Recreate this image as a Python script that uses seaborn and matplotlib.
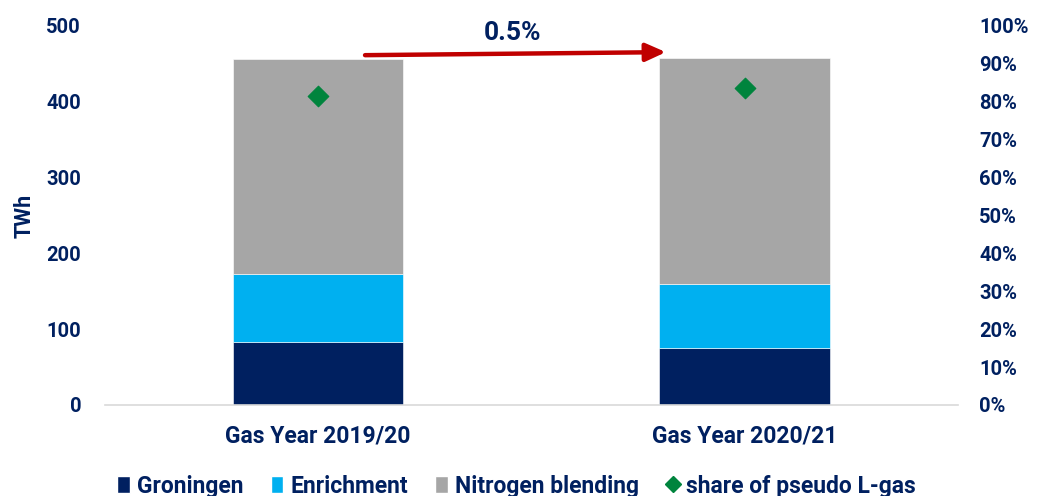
import matplotlib
matplotlib.use("Agg")
import matplotlib.pyplot as plt
import seaborn as sns
from matplotlib.lines import Line2D
from matplotlib.patches import Patch

categories = ["Gas Year 2019/20", "Gas Year 2020/21"]
groningen = [83, 75]
enrichment = [90, 85]
nitrogen = [283, 298]
share_pseudo = [0.815, 0.836]
change_label = "0.5%"

navy = "#002060"
c_gron = "#002060"
c_enr = "#00B0F0"
c_nit = "#A6A6A6"
c_share = "#00843D"
c_arrow = "#C00000"

FS_Y = 14.5
FS_X = 16.5

sns.set_theme(style="white")
plt.rcParams["font.family"] = ["Roboto", "DejaVu Sans"]
plt.rcParams["font.weight"] = "bold"

fig = plt.figure(figsize=(10.37, 4.96), dpi=100)
ax = fig.add_axes([0.101, 0.1835, 0.823, 0.7641])

bottom2 = [g + e for g, e in zip(groningen, enrichment)]
sns.barplot(x=categories, y=groningen, color=c_gron, width=0.4, ax=ax,
            edgecolor="white", linewidth=0.4, saturation=1)
sns.barplot(x=categories, y=enrichment, bottom=groningen, color=c_enr, width=0.4,
            ax=ax, edgecolor="white", linewidth=0.4, saturation=1)
sns.barplot(x=categories, y=nitrogen, bottom=bottom2, color=c_nit, width=0.4,
            ax=ax, edgecolor="white", linewidth=0.4, saturation=1)

ax.set_xlim(-0.5, 1.5)
ax.set_ylim(0, 500)
ax.set_yticks(range(0, 501, 100))
ax.set_ylabel("TWh", color=navy, fontsize=FS_Y + 1, fontweight="bold", labelpad=8)
ax.tick_params(axis="y", length=0, labelsize=FS_Y, labelcolor=navy, pad=17)
ax.tick_params(axis="x", length=0, labelsize=FS_X, labelcolor=navy, pad=14)
for lab in ax.get_xticklabels() + ax.get_yticklabels():
    lab.set_fontweight("bold")
for s in ["top", "left", "right"]:
    ax.spines[s].set_visible(False)
ax.spines["bottom"].set_color("#D9D9D9")
ax.spines["bottom"].set_linewidth(1.2)

ax2 = ax.twinx()
sns.scatterplot(x=categories, y=share_pseudo, marker="D", s=110, color=c_share,
                edgecolor=c_share, ax=ax2, zorder=5)
ax2.set_ylim(0, 1.0)
ax2.set_yticks([i / 10 for i in range(11)])
ax2.set_yticklabels([f"{i*10}%" for i in range(11)])
ax2.tick_params(axis="y", length=0, labelsize=FS_Y, labelcolor=navy, pad=15)
for lab in ax2.get_yticklabels():
    lab.set_fontweight("bold")
for s in ["top", "left", "right", "bottom"]:
    ax2.spines[s].set_visible(False)
ax2.set_xlim(-0.5, 1.5)

ax.annotate("", xy=(0.815, 465.5), xytext=(0.11, 461.5),
            arrowprops=dict(arrowstyle="-|>,head_length=1.0,head_width=0.45",
                            color=c_arrow, lw=3.2, shrinkA=0, shrinkB=0))
ax.text(0.455, 475, change_label, ha="center", va="bottom", color=navy,
        fontsize=19, fontweight="bold")

handles = [
    Patch(facecolor=c_gron, label="Groningen"),
    Patch(facecolor=c_enr, label="Enrichment"),
    Patch(facecolor=c_nit, label="Nitrogen blending"),
    Line2D([], [], marker="D", linestyle="none", color=c_share, markersize=8,
           label="share of pseudo L-gas"),
]
leg = fig.legend(handles=handles, loc="center", bbox_to_anchor=(0.498, 0.02),
                 ncol=4, frameon=False, handlelength=0.55,
                 handleheight=0.75, handletextpad=0.3, columnspacing=1.2,
                 prop={"weight": "bold", "size": FS_X})
for t in leg.get_texts():
    t.set_color(navy)

fig.savefig("out.png", dpi=100)
